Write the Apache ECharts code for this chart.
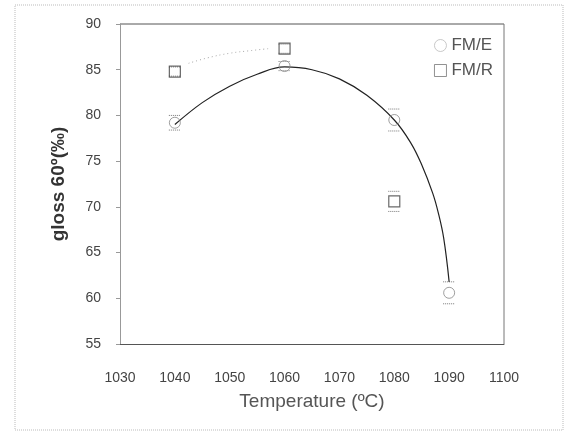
<!DOCTYPE html>
<html>
<head>
<meta charset="utf-8">
<script src="https://cdn.jsdelivr.net/npm/echarts@6/dist/echarts.min.js"></script>
<style>
  html, body { margin: 0; padding: 0; background: #fff; }
  #chart { width: 568px; height: 434px; }
</style>
</head>
<body>
<div id="chart"></div>
<script>
// Measured gloss values (FM/E and FM/R glazes) vs firing temperature
const tempE = [1040, 1060, 1080, 1090];
const glossE = [79.2, 85.4, 79.5, 60.6];
const errE = [0.8, 0.5, 1.2, 1.2];

const tempR = [1040, 1060, 1080];
const glossR = [84.8, 87.3, 70.6];
const errR = [0.5, 0.5, 1.1];

// Fitted trend curves
const fitE_x = [1040, 1045, 1050, 1055, 1060, 1065, 1070, 1075, 1080, 1083, 1085, 1087, 1088, 1089, 1090];
const fitE_y = [79.0, 81.4, 83.2, 84.5, 85.3, 85.0, 84.0, 82.2, 79.5, 77.0, 74.6, 71.5, 69.4, 66.6, 61.8];
const fitR_x = [1042.5, 1046, 1050, 1054, 1057];
const fitR_y = [85.7, 86.3, 86.8, 87.1, 87.3];

const xTicks = [1030, 1040, 1050, 1060, 1070, 1080, 1090, 1100];
const yTicks = [55, 60, 65, 70, 75, 80, 85, 90];

const pairs = (xs, ys) => xs.map((x, i) => [x, ys[i]]);
const errData = (xs, ys, es) => xs.map((x, i) => [x, ys[i] - es[i], ys[i] + es[i]]);

function errRender(params, api) {
  const x = api.value(0);
  const lo = api.coord([x, api.value(1)]);
  const hi = api.coord([x, api.value(2)]);
  const w = 6;
  const st = { stroke: '#777', lineWidth: 1, lineDash: [1, 1] };
  return {
    type: 'group',
    children: [
      { type: 'line', shape: { x1: lo[0] - w, y1: lo[1], x2: lo[0] + w, y2: lo[1] }, style: st },
      { type: 'line', shape: { x1: hi[0] - w, y1: hi[1], x2: hi[0] + w, y2: hi[1] }, style: st }
    ]
  };
}

const chart = echarts.init(document.getElementById('chart'), null, { renderer: 'canvas' });
const font = 'Arial, "Liberation Sans", sans-serif';

chart.setOption({
  animation: false,
  backgroundColor: '#fff',
  graphic: [
    { type: 'rect', shape: { x: 15, y: 5, width: 548, height: 425 },
      style: { fill: 'none', stroke: '#bbb', lineWidth: 1, lineDash: [1, 1] } },
    { type: 'line', shape: { x1: 120, y1: 24, x2: 504, y2: 24 },
      style: { stroke: '#555', lineWidth: 1 } },
    { type: 'line', shape: { x1: 504, y1: 24, x2: 504, y2: 344 },
      style: { stroke: '#777', lineWidth: 1 } }
  ],
  grid: { left: 120, right: 64, top: 24, bottom: 90 },
  legend: {
    right: 70, top: 32, orient: 'vertical', itemGap: 8,
    itemWidth: 12, itemHeight: 12,
    textStyle: { fontFamily: font, fontSize: 17, color: '#555' },
    data: [
      { name: 'FM/E', icon: 'circle', itemStyle: { color: 'none', borderColor: '#bbb', borderWidth: 1 } },
      { name: 'FM/R', icon: 'rect', itemStyle: { color: 'none', borderColor: '#777', borderWidth: 1 } }
    ]
  },
  xAxis: {
    type: 'value', min: 1030, max: 1100, interval: 10,
    name: 'Temperature (ºC)', nameLocation: 'middle', nameGap: 48,
    nameTextStyle: { fontFamily: font, fontSize: 19, color: '#555' },
    axisLine: { show: true, lineStyle: { color: '#555', width: 1 } },
    axisTick: { show: false },
    axisLabel: { fontFamily: font, fontSize: 14, color: '#444', margin: 27,
      formatter: v => String(v) },
    splitLine: { show: false }
  },
  yAxis: {
    type: 'value', min: 55, max: 90, interval: 5,
    name: 'gloss 60º(‰)', nameLocation: 'middle', nameGap: 52, nameRotate: 90,
    nameTextStyle: { fontFamily: font, fontSize: 19, fontWeight: 'bold', color: '#333' },
    axisLine: { show: true, lineStyle: { color: '#999', width: 1 } },
    axisTick: { show: true, length: 4, lineStyle: { color: '#999' } },
    axisLabel: { fontFamily: font, fontSize: 14, color: '#444', margin: 19 },
    splitLine: { show: false }
  },
  series: [
    {
      name: 'fitE', type: 'line', smooth: 0.4, symbol: 'none', silent: true,
      data: pairs(fitE_x, fitE_y),
      lineStyle: { color: '#222', width: 1.2 }
    },
    {
      name: 'fitR', type: 'line', smooth: true, symbol: 'none', silent: true,
      data: pairs(fitR_x, fitR_y),
      lineStyle: { color: '#aaa', width: 1, type: [1, 3] }
    },
    {
      name: 'errE', type: 'custom', renderItem: errRender, silent: true,
      data: errData(tempE, glossE, errE), z: 3
    },
    {
      name: 'errR', type: 'custom', renderItem: errRender, silent: true,
      data: errData(tempR, glossR, errR), z: 3
    },
    {
      name: 'FM/E', type: 'scatter', symbol: 'circle', symbolSize: 11,
      data: pairs(tempE, glossE), z: 4,
      itemStyle: { color: 'rgba(255,255,255,0)', borderColor: '#888', borderWidth: 1 }
    },
    {
      name: 'FM/R', type: 'scatter', symbol: 'rect', symbolSize: 11,
      data: pairs(tempR, glossR), z: 4,
      itemStyle: { color: 'rgba(255,255,255,0)', borderColor: '#444', borderWidth: 1.2 }
    }
  ]
});
</script>
</body>
</html>
